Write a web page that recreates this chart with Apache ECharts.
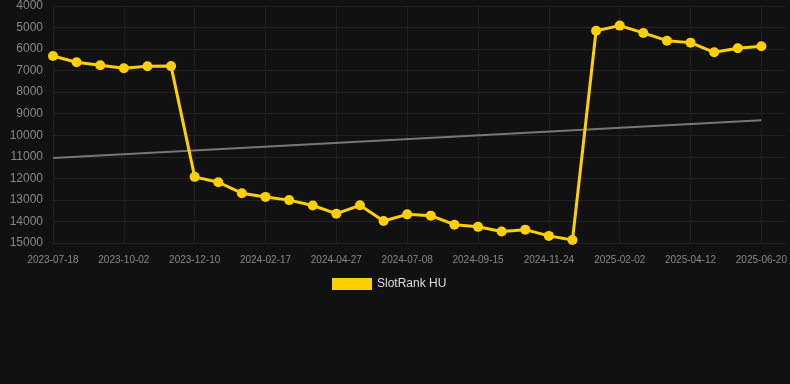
<!DOCTYPE html>
<html>
<head>
<meta charset="utf-8">
<script src="https://cdn.jsdelivr.net/npm/echarts@6/dist/echarts.min.js"></script>
<style>
html,body{margin:0;padding:0;background:#111111;}
#c{width:790px;height:384px;}
</style>
</head>
<body>
<div id="c"></div>
<script>
const categories = [
  '2023-07-18','2023-08-13','2023-09-07','2023-10-02','2023-10-25','2023-11-17',
  '2023-12-10','2024-01-02','2024-01-25','2024-02-17','2024-03-11','2024-04-04',
  '2024-04-27','2024-05-20','2024-06-14','2024-07-08','2024-07-31','2024-08-23',
  '2024-09-15','2024-10-08','2024-11-01','2024-11-24','2024-12-17','2025-01-10',
  '2025-02-02','2025-02-25','2025-03-20','2025-04-12','2025-05-05','2025-05-28',
  '2025-06-20',''
];
const rankValues = [
  6320, 6610, 6750, 6890, 6800, 6790,
  11930, 12180, 12690, 12860, 13010, 13260,
  13640, 13250, 13980, 13670, 13730, 14150,
  14250, 14470, 14380, 14670, 14860, 5150,
  4910, 5250, 5610, 5700, 6150, 5960,
  5870
];
const trendStart = 11050;
const trendEnd = 9300;
const yTicks = { min: 4000, max: 15000, interval: 1000 };

const trendValues = categories.map((c, i) => i === 0 ? trendStart : (i === rankValues.length - 1 ? trendEnd : null));

const chart = echarts.init(document.getElementById('c'), null, { renderer: 'canvas' });
chart.setOption({
  backgroundColor: '#111111',
  animation: false,
  grid: { left: 53, right: 5, top: 6, bottom: 141, containLabel: false },
  legend: {
    data: ['SlotRank HU'],
    top: 278,
    left: 332,
    icon: 'rect',
    itemWidth: 40,
    itemHeight: 12,
    itemGap: 10,
    padding: 0,
    textStyle: { color: '#dddddd', fontSize: 12, fontFamily: 'Liberation Sans, Arial, sans-serif' }
  },
  xAxis: {
    type: 'category',
    data: categories,
    boundaryGap: false,
    axisLine: { show: false },
    axisTick: { show: false },
    axisLabel: { interval: 2, color: '#888888', fontSize: 10, margin: 12, fontFamily: 'Liberation Sans, Arial, sans-serif' },
    splitLine: { show: true, interval: 2, lineStyle: { color: '#1e1e1e', width: 1 } }
  },
  yAxis: {
    type: 'value',
    inverse: true,
    min: yTicks.min,
    max: yTicks.max,
    interval: yTicks.interval,
    axisLine: { show: false },
    axisTick: { show: false },
    axisLabel: { color: '#888888', fontSize: 12, margin: 10, formatter: v => String(v), fontFamily: 'Liberation Sans, Arial, sans-serif' },
    splitLine: { show: true, lineStyle: { color: '#222222', width: 1 } }
  },
  series: [
    {
      name: 'Trend',
      type: 'line',
      data: trendValues,
      connectNulls: true,
      showSymbol: false,
      symbol: 'none',
      lineStyle: { color: '#777777', width: 2 },
      z: 1,
      silent: true
    },
    {
      name: 'SlotRank HU',
      type: 'line',
      data: rankValues,
      symbol: 'circle',
      symbolSize: 10,
      itemStyle: { color: '#FFD000' },
      lineStyle: { color: '#FFD000', width: 3 },
      z: 2
    }
  ]
});
</script>
</body>
</html>
